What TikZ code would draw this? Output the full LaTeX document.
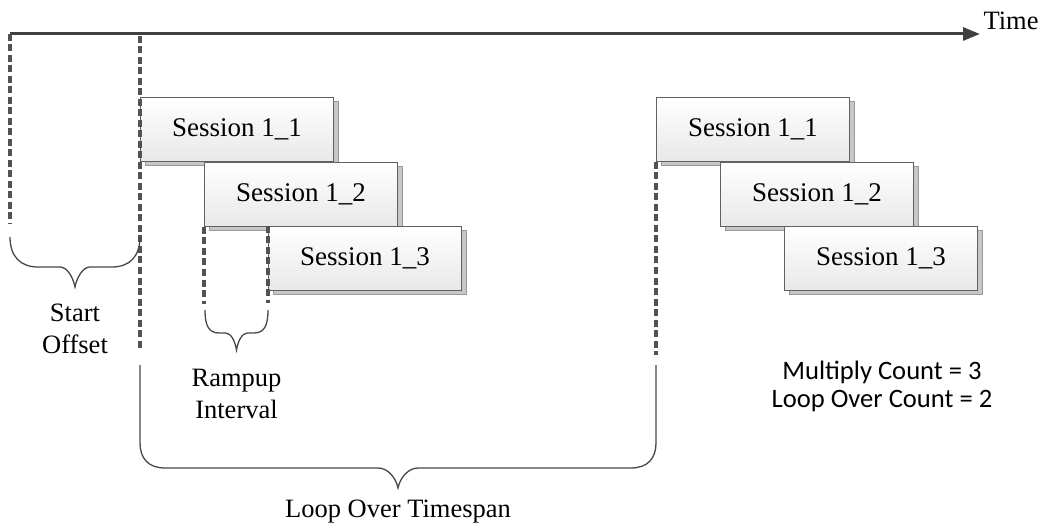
\documentclass[tikz,border=0pt]{standalone}
\usepackage{fontspec}
\setmainfont{Liberation Serif}
\newfontfamily\countfont{Carlito}
\usetikzlibrary{shadows,arrows.meta}

\begin{document}
\begin{tikzpicture}[x=1pt,y=-1pt,
  session/.style={draw=black!62, line width=1pt, top color=white, bottom color=black!9,
    minimum width=193pt, minimum height=64pt, inner sep=0pt, anchor=north west,
    font=\fontsize{27}{30}\selectfont,
    drop shadow={shadow xshift=5pt, shadow yshift=-4pt, fill=black!22, draw=black!40, opacity=1}},
  marker/.style={draw=black!68, line width=3.3pt, dash pattern=on 7pt off 3.5pt},
  bracket/.style={draw=black!72, line width=1.3pt},
  axis/.style={draw=black!75, line width=3pt, -{Triangle[length=17pt,width=13pt]}},
  label/.style={align=center, inner sep=0pt, font=\fontsize{26.5}{32}\selectfont},
  countlabel/.style={align=center, inner sep=0pt, font=\countfont\fontsize{26.6}{28}\selectfont}]
\useasboundingbox (0,0) rectangle (1046,529);

% time axis
\coordinate (ax0) at (10,34);
\coordinate (ax1) at (980,34);
\draw[axis] (ax0) -- (ax1);
\node[label] (time) at (1011,21) {Time};

% first loop of sessions
\node[session] (s11) at (140,97) {Session 1\_1};
\node[session] (s12) at (204,162) {Session 1\_2};
\node[session] (s13) at (268,226) {Session 1\_3};

% second loop of sessions
\node[session] (t11) at (656,97) {Session 1\_1};
\node[session] (t12) at (720,162) {Session 1\_2};
\node[session] (t13) at (784,226) {Session 1\_3};

% dashed time markers
\coordinate (m0a) at (10,34);
\coordinate (m0b) at (10,224);
\coordinate (m1a) at (140,36);
\coordinate (m1b) at (140,350);
\draw[marker] (m0a) -- (m0b);
\draw[marker] (m1a) -- (m1b);
\draw[marker] (s12.south west) -- ++(0,77);
\draw[marker] (s13.north west) -- ++(0,77);
\draw[marker] (t11.south west) -- ++(0,193);

% start offset brace
\draw[bracket] (10,237) .. controls (10,256) and (20,267) .. (38,267) -- (60,267)
  .. controls (67,267) and (73,277) .. (75,287)
  .. controls (77,277) and (83,267) .. (90,267) -- (112,267)
  .. controls (130,267) and (140,256) .. (140,237);
\node[label] (startoff) at (75,329) {Start\\Offset};

% rampup brace
\draw[bracket] (205,310) .. controls (205,326) and (209,333) .. (219,333) -- (225.5,333)
  .. controls (231,333) and (235,341) .. (236.5,350)
  .. controls (238,341) and (242,333) .. (247.5,333) -- (254,333)
  .. controls (264,333) and (268,326) .. (268,310);
\node[label] (rampup) at (236.5,394) {Rampup\\Interval};

% loop timespan brace
\draw[bracket] (140,365) -- (140,443) .. controls (140,458) and (148,468) .. (165,468) -- (378,468)
  .. controls (388,468) and (396,478) .. (398,488)
  .. controls (400,478) and (408,468) .. (418,468) -- (631,468)
  .. controls (648,468) and (656,458) .. (656,443) -- (656,365);
\node[label] (loopspan) at (398,512) {Loop Over Timespan};

% counts
\node[countlabel] (counts) at (882,386) {Multiply Count = 3\\Loop Over Count = 2};
\end{tikzpicture}
\end{document}
